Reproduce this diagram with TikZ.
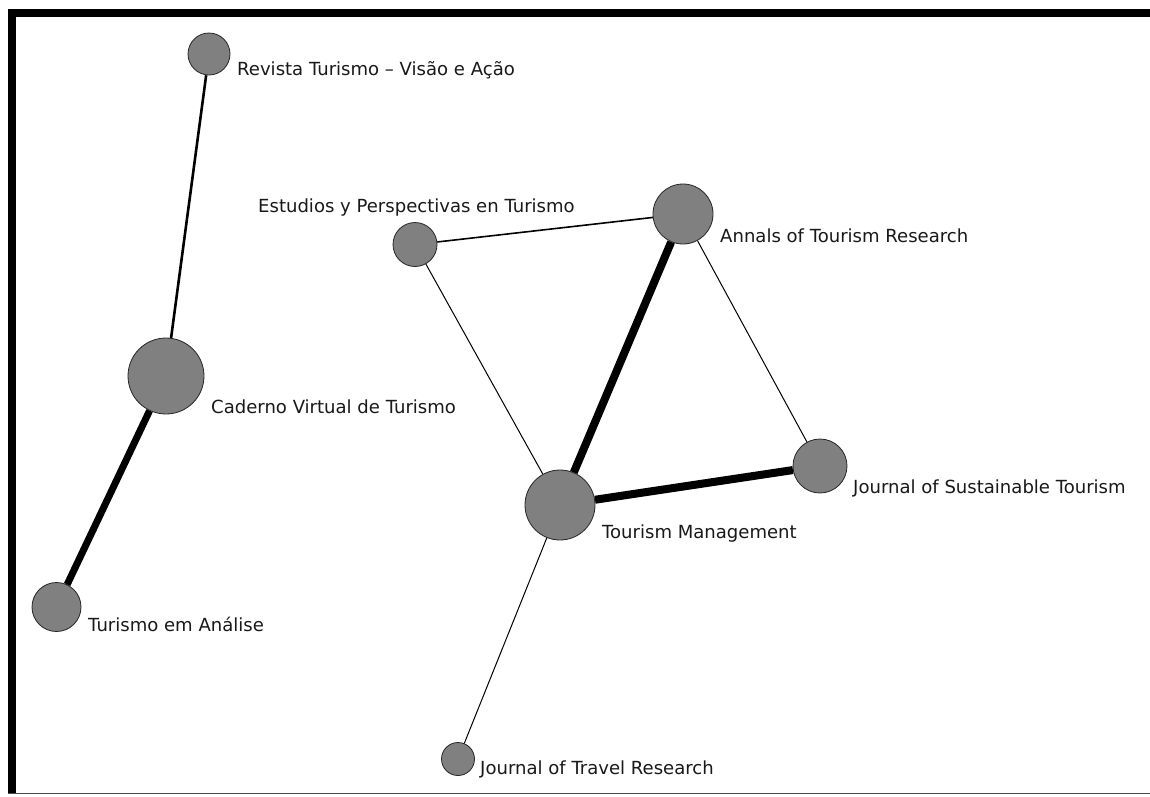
\documentclass[tikz,border=0pt]{standalone}
\usepackage{fontspec}
\setmainfont{DejaVu Sans}
\begin{document}
\begin{tikzpicture}[x=1pt,y=-1pt,
  jnode/.style={circle,draw=black!85,line width=0.8pt,fill=black!50,inner sep=0pt,minimum size=#1},
  lab/.style={anchor=base west,inner sep=0pt,font=\fontsize{18.05}{20}\selectfont,text=black!90},
  e1/.style={line width=1pt,black},
  e2/.style={line width=1.6pt,black},
  e3/.style={line width=2.6pt,black},
  e7/.style={line width=7pt,black},
  e8/.style={line width=8pt,black}]
\useasboundingbox (0,0) rectangle (1150,796);
\fill[white] (0,0) rectangle (1150,796);
% frame
\fill[black] (8,9) rectangle (1150,17);
\fill[black] (8,9) rectangle (16,794);
\fill[black!70] (8,792.5) rectangle (1150,794);
% nodes
\node[jnode=42pt] (rev) at (209,54) {};
\node[jnode=76pt] (cad) at (166,376) {};
\node[jnode=49pt] (tea) at (56.5,607) {};
\node[jnode=44pt] (est) at (415,244.5) {};
\node[jnode=60pt] (ann) at (683,214) {};
\node[jnode=70pt] (tm) at (560,505) {};
\node[jnode=54pt] (jst) at (820,466) {};
\node[jnode=33pt] (jtr) at (458,759) {};
% edges
\draw[e3] (rev) -- (cad);
\draw[e7] (cad) -- (tea);
\draw[e2] (est) -- (ann);
\draw[e1] (est) -- (tm);
\draw[e8] (ann) -- (tm);
\draw[e1] (ann) -- (jst);
\draw[e8] (tm) -- (jst);
\draw[e1] (tm) -- (jtr);
% labels
\node[lab] (lrev) at (237,75) {Revista Turismo – Visão e Ação};
\node[lab] (lcad) at (211,413) {Caderno Virtual de Turismo};
\node[lab] (ltea) at (88,631) {Turismo em Análise};
\node[lab] (lest) at (258,212.7) {Estudios y Perspectivas en Turismo};
\node[lab] (lann) at (720,242) {Annals of Tourism Research};
\node[lab] (ltm) at (602,538) {Tourism Management};
\node[lab] (ljst) at (853,493) {Journal of Sustainable Tourism};
\node[lab] (ljtr) at (480,774) {Journal of Travel Research};
\end{tikzpicture}
\end{document}
